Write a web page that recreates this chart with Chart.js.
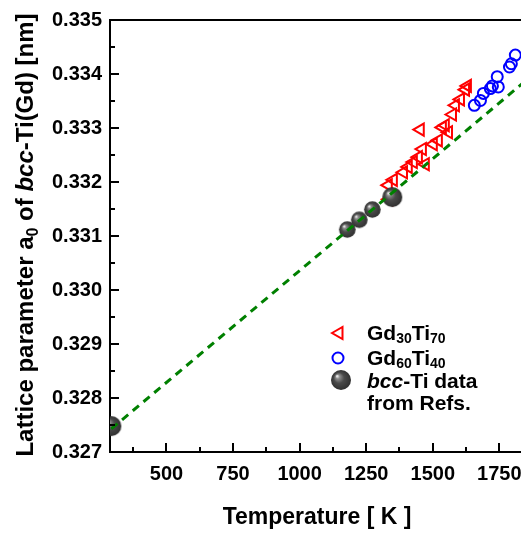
<!DOCTYPE html>
<html>
<head>
<meta charset="utf-8">
<title>Lattice parameter vs temperature</title>
<script src="https://cdn.jsdelivr.net/npm/chart.js@4.4.1/dist/chart.umd.min.js"></script>
<style>
  html, body { margin: 0; padding: 0; background: #fff; overflow: hidden; }
  #wrap { width: 540px; height: 533px; }
</style>
</head>
<body>
<div id="wrap"><canvas id="chart" width="540" height="533"></canvas></div>
<script>
// Gd30Ti70 (open triangles)
const tempGd30Ti70 = [1333, 1335, 1352, 1390, 1408, 1427, 1446, 1461, 1472, 1453, 1502, 1521, 1536, 1547, 1559, 1574, 1585, 1604, 1623, 1630];
const a0Gd30Ti70   = [0.33194, 0.33168, 0.33204, 0.33218, 0.33228, 0.33237, 0.33246, 0.33261, 0.33233, 0.33297, 0.33270, 0.33277, 0.33301, 0.33305, 0.33292, 0.33325, 0.33342, 0.33353, 0.33371, 0.33378];

// Gd60Ti40 (open circles)
const tempGd60Ti40 = [1656, 1679, 1690, 1716, 1724, 1742, 1746, 1788, 1795, 1810];
const a0Gd60Ti40   = [0.33342, 0.33351, 0.33364, 0.33373, 0.33378, 0.33395, 0.33376, 0.33413, 0.33419, 0.33435];

// bcc-Ti literature values
const tempTi = [293, 1179, 1224, 1273, 1348];
const a0Ti   = [0.32748, 0.33112, 0.33130, 0.33149, 0.33172];

// linear extrapolation of bcc-Ti
const fitTemp = [293, 1850];
const fitA0   = [0.32743, 0.33388];

const xTickValues = [500, 750, 1000, 1250, 1500, 1750];
const yTickValues = [0.327, 0.328, 0.329, 0.330, 0.331, 0.332, 0.333, 0.334, 0.335];

const FONT = '"Liberation Sans", Arial, Helvetica, sans-serif';

const toPoints = (xs, ys) => xs.map((x, i) => ({ x: x, y: ys[i] }));

// shaded ball used for the bcc-Ti markers
function makeSphere(r) {
  const s = Math.ceil(r * 2) + 2;
  const c = document.createElement('canvas');
  c.width = c.height = s;
  const g = c.getContext('2d');
  const cx = s / 2, cy = s / 2;
  const grad = g.createRadialGradient(cx - r * 0.4, cy - r * 0.4, r * 0.04, cx, cy, r);
  grad.addColorStop(0, '#f0f0f0');
  grad.addColorStop(0.18, '#8c8c8c');
  grad.addColorStop(0.5, '#4a4a4a');
  grad.addColorStop(1, '#303030');
  g.fillStyle = grad;
  g.beginPath();
  g.arc(cx, cy, r, 0, Math.PI * 2);
  g.fill();
  return c;
}
const sphereBig = makeSphere(10);
const sphereSmall = makeSphere(8.3);

// text made of runs with different fonts / offsets
function drawRuns(ctx, x, y, runs, center) {
  let w = 0;
  runs.forEach(r => { ctx.font = r.font; w += ctx.measureText(r.t).width; });
  let cx = center ? x - w / 2 : x;
  runs.forEach(r => {
    ctx.font = r.font;
    ctx.fillText(r.t, cx, y + (r.dy || 0));
    cx += ctx.measureText(r.t).width;
  });
}

const decor = {
  id: 'decor',
  afterDraw(chart) {
    const { ctx, chartArea: a, scales: { x, y } } = chart;
    ctx.save();
    ctx.strokeStyle = '#000';
    ctx.lineWidth = 2;
    ctx.lineCap = 'butt';

    // top frame line
    ctx.beginPath();
    ctx.moveTo(a.left, a.top);
    ctx.lineTo(a.right + 1, a.top);
    ctx.stroke();

    // inward ticks, bottom axis (major 250, minor 125)
    ctx.beginPath();
    for (let v = 375; v <= x.max; v += 125) {
      const px = Math.round(x.getPixelForValue(v));
      const len = (v % 250 === 0) ? 9 : 5;
      ctx.moveTo(px, a.bottom);
      ctx.lineTo(px, a.bottom - len);
    }
    // inward ticks, left axis (major 0.001, minor 0.0005)
    for (let k = 1; k < 16; k++) {
      const v = 0.327 + k * 0.0005;
      const py = Math.round(y.getPixelForValue(v));
      const len = (k % 2 === 0) ? 9 : 5;
      ctx.moveTo(a.left, py);
      ctx.lineTo(a.left + len, py);
    }
    ctx.stroke();

    ctx.fillStyle = '#000';
    ctx.textBaseline = 'alphabetic';
    ctx.textAlign = 'left';

    // x-axis title
    drawRuns(ctx, 317, 524, [{ t: 'Temperature [ K ]', font: 'bold 23px ' + FONT }], true);

    // y-axis title (rotated)
    ctx.save();
    ctx.translate(33, 235);
    ctx.rotate(-Math.PI / 2);
    const B = 'bold 24px ' + FONT;
    drawRuns(ctx, 0, 0, [
      { t: 'Lattice parameter a', font: B },
      { t: '0', font: 'bold 16px ' + FONT, dy: 5 },
      { t: ' of ', font: B },
      { t: 'bcc', font: 'italic bold 24px ' + FONT },
      { t: '-Ti(Gd) [nm]', font: B }
    ], true);
    ctx.restore();

    // legend
    const L = 'bold 21px ' + FONT, S = 'bold 14px ' + FONT;
    ctx.strokeStyle = '#ff0000';
    ctx.fillStyle = 'rgba(0,0,0,0)';
    Chart.helpers.drawPoint(ctx, { pointStyle: 'triangle', rotation: -90, radius: 7, borderWidth: 2 }, 339, 333);
    ctx.strokeStyle = '#0000ff';
    Chart.helpers.drawPoint(ctx, { pointStyle: 'circle', rotation: 0, radius: 5.5, borderWidth: 2 }, 338, 358);
    Chart.helpers.drawPoint(ctx, { pointStyle: sphereBig, rotation: 0, radius: 10, borderWidth: 0 }, 341, 380);

    ctx.fillStyle = '#000';
    drawRuns(ctx, 367, 340, [
      { t: 'Gd', font: L }, { t: '30', font: S, dy: 3 }, { t: 'Ti', font: L }, { t: '70', font: S, dy: 3 }
    ]);
    drawRuns(ctx, 367, 365, [
      { t: 'Gd', font: L }, { t: '60', font: S, dy: 3 }, { t: 'Ti', font: L }, { t: '40', font: S, dy: 3 }
    ]);
    drawRuns(ctx, 367, 388, [
      { t: 'bcc', font: 'italic bold 21px ' + FONT }, { t: '-Ti data', font: L }
    ]);
    drawRuns(ctx, 367, 410, [{ t: 'from Refs.', font: L }]);

    ctx.restore();
  }
};

const tickFont = { family: FONT, size: 20, weight: 'bold' };

new Chart(document.getElementById('chart'), {
  type: 'scatter',
  data: {
    datasets: [
      {
        label: 'fit',
        data: toPoints(fitTemp, fitA0),
        showLine: true,
        borderColor: '#008000',
        borderWidth: 3,
        borderDash: [8, 6],
        pointRadius: 0,
        clip: 0,
        order: 0
      },
      {
        label: 'bcc-Ti data from Refs.',
        data: toPoints(tempTi, a0Ti),
        pointStyle: c => (c.dataIndex === 0 || c.dataIndex === 4) ? sphereBig : sphereSmall,
        pointRadius: 9,
        clip: 0,
        order: 1
      },
      {
        label: 'Gd30Ti70',
        data: toPoints(tempGd30Ti70, a0Gd30Ti70),
        pointStyle: 'triangle',
        rotation: -90,
        pointRadius: 7,
        borderColor: '#ff0000',
        backgroundColor: 'rgba(0,0,0,0)',
        borderWidth: 2,
        order: 2
      },
      {
        label: 'Gd60Ti40',
        data: toPoints(tempGd60Ti40, a0Gd60Ti40),
        pointStyle: 'circle',
        pointRadius: 5.5,
        borderColor: '#0000ff',
        backgroundColor: 'rgba(0,0,0,0)',
        borderWidth: 2,
        order: 3
      }
    ]
  },
  options: {
    responsive: false,
    animation: false,
    devicePixelRatio: 1,
    events: [],
    layout: { padding: { left: 0, right: 14, top: 17, bottom: 0 } },
    plugins: { legend: { display: false }, tooltip: { enabled: false } },
    scales: {
      x: {
        type: 'linear',
        min: 288,
        max: 1850,
        grid: { display: false, drawTicks: false },
        border: { display: true, color: '#000', width: 2 },
        afterBuildTicks: s => { s.ticks = xTickValues.map(v => ({ value: v })); },
        afterFit: s => { s.height = 81; },
        ticks: { color: '#000', font: tickFont, padding: 10, maxRotation: 0, autoSkip: false, callback: v => String(v) }
      },
      y: {
        type: 'linear',
        min: 0.327,
        max: 0.335,
        grid: { display: false, drawTicks: false },
        border: { display: true, color: '#000', width: 2 },
        afterBuildTicks: s => { s.ticks = yTickValues.map(v => ({ value: v })); },
        afterFit: s => { s.width = 110; },
        ticks: { color: '#000', font: tickFont, padding: 8, autoSkip: false, callback: v => v.toFixed(3) }
      }
    }
  },
  plugins: [decor]
});
</script>
</body>
</html>
